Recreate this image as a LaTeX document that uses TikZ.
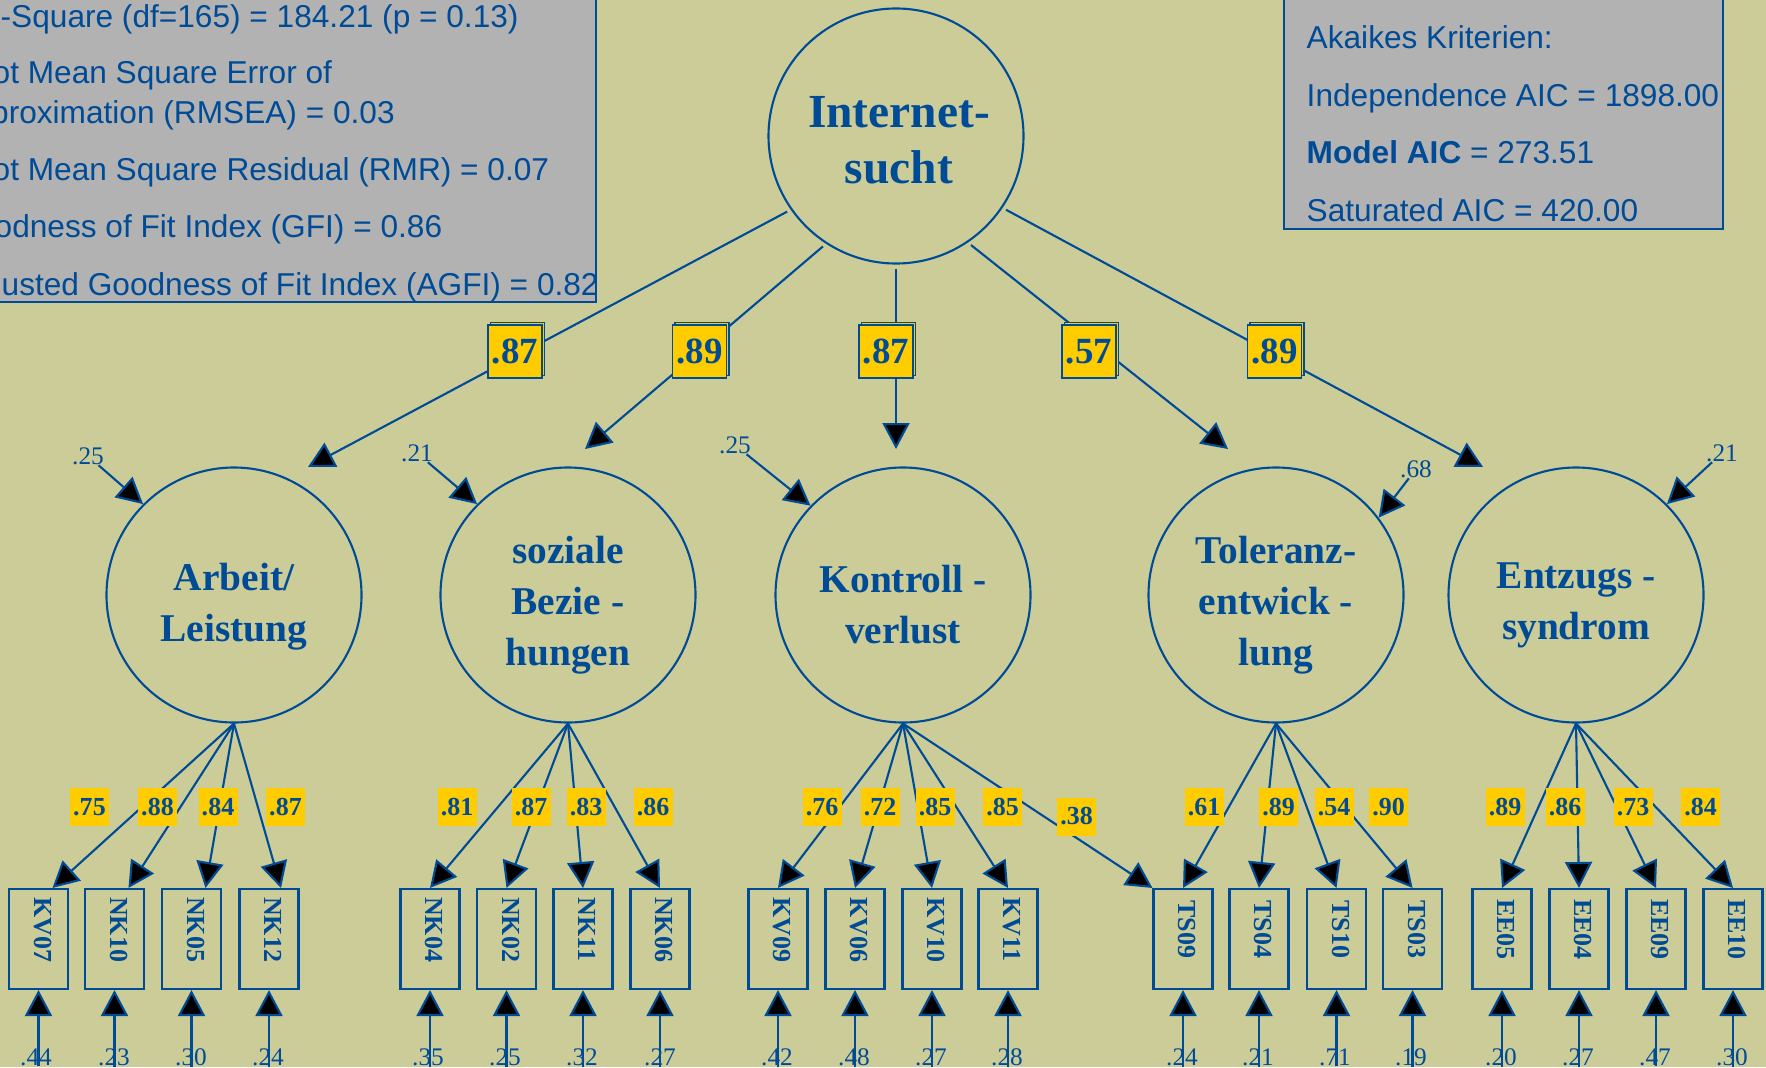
\documentclass[tikz,border=0pt]{standalone}
\usepackage{fontspec}
\setmainfont{Liberation Serif}
\newfontfamily\arialfont{Liberation Sans}
\usetikzlibrary{arrows.meta,shadows}

\definecolor{ink}{RGB}{0,75,150}
\definecolor{olive}{RGB}{204,204,153}
\definecolor{panel}{RGB}{178,178,178}
\definecolor{gold}{RGB}{255,204,0}

\begin{document}
\begin{tikzpicture}[
    x=0.1mm, y=-0.1mm,
    factor/.style={circle, draw=ink, line width=0.6pt, minimum size=25.5mm, inner sep=0pt},
    toptext/.style={text=ink, align=center, font=\bfseries\fontsize{13.5}{15.9}\selectfont, yshift=-0.45mm, xshift=0.3mm},
    ftext/.style={text=ink, align=center, font=\bfseries\fontsize{11.2}{14.5}\selectfont, yshift=-1mm},
    indicator/.style={rectangle, draw=ink, line width=0.6pt, rotate=-90, minimum width=10mm, minimum height=5.9mm, inner sep=0pt, text=ink, text depth=0.9mm, font=\bfseries\fontsize{7.4}{9}\selectfont, execute at end node={\hspace*{1.9mm}}},
    bigload/.style={rectangle, fill=gold, draw=ink, line width=0.5pt, text=ink, inner sep=0pt, minimum width=5.4mm, minimum height=5.3mm, font=\bfseries\fontsize{10.5}{12}\selectfont, copy shadow={shadow xshift=0.25mm, shadow yshift=0.25mm, fill=gold, draw=ink}},
    load/.style={rectangle, fill=gold, text=ink, inner sep=0pt, minimum width=3.9mm, minimum height=3.8mm, font=\bfseries\fontsize{7.4}{9}\selectfont},
    resid/.style={text=ink, inner sep=0pt, font=\fontsize{7.2}{9}\selectfont},
    fitline/.style={text=ink, anchor=base west, inner sep=0pt, font=\arialfont\fontsize{9}{11}\selectfont},
    regr/.style={draw=ink, line width=0.6pt, -{Triangle[length=2.6mm, width=2.7mm, fill=black]}}
]
    \fill[olive] (0,0) rectangle (1766,1067);
    \useasboundingbox (0,0) rectangle (1766,1067);

    % Fit panels
    \draw[ink, fill=panel, line width=0.6pt] (-20,-20) rectangle (596,302);
    \node[fitline] (chi) at (0,27) {-Square (df=165) = 184.21 (p = 0.13)};
    \node[fitline] (rmsea) at (-8,83) {ot Mean Square Error of};
    \node[fitline] (rmsea2) at (-9.5,123) {proximation (RMSEA) = 0.03};
    \node[fitline] (rmr) at (-8,180) {ot Mean Square Residual (RMR) = 0.07};
    \node[fitline] (gfi) at (-6,237) {odness of Fit Index (GFI) = 0.86};
    \node[fitline] (agfi) at (1,295) {usted Goodness of Fit Index (AGFI) = 0.82};

    \draw[ink, fill=panel, line width=0.6pt] (1284,-20) rectangle (1723,229);
    \node[fitline] (aic) at (1306,48) {Akaikes Kriterien:};
    \node[fitline] (aicind) at (1306,106) {Independence AIC = 1898.00};
    \node[fitline] (aicmod) at (1306,163) {\textbf{Model AIC} = 273.51};
    \node[fitline] (aicsat) at (1306,221) {Saturated AIC = 420.00};

    % Factors
    \node[factor, label={[toptext]center:Internet-\\sucht}] (sucht) at (896,136) {};
    \node[factor, label={[ftext, yshift=-0.2mm]center:Arbeit/\\Leistung}] (arb) at (234,595) {};
    \node[factor, label={[ftext]center:soziale\\Bezie -\\hungen}] (soz) at (568,595) {};
    \node[factor, label={[ftext]center:Kontroll -\\verlust}] (kon) at (903,595) {};
    \node[factor, label={[ftext]center:Toleranz-\\entwick -\\lung}] (tol) at (1276,595) {};
    \node[factor, label={[ftext]center:Entzugs -\\syndrom}] (ent) at (1576,595) {};

    % Indicators
    \node[indicator] (kv07) at (38.5,939) {KV07};
    \node[indicator] (nk10) at (114.5,939) {NK10};
    \node[indicator] (nk05) at (191.5,939) {NK05};
    \node[indicator] (nk12) at (269,939) {NK12};
    \node[indicator] (nk04) at (430,939) {NK04};
    \node[indicator] (nk02) at (506.5,939) {NK02};
    \node[indicator] (nk11) at (583,939) {NK11};
    \node[indicator] (nk06) at (660,939) {NK06};
    \node[indicator] (kv09) at (778,939) {KV09};
    \node[indicator] (kv06) at (855,939) {KV06};
    \node[indicator] (kv10) at (932,939) {KV10};
    \node[indicator] (kv11) at (1008,939) {KV11};
    \node[indicator] (ts09) at (1183,939) {TS09};
    \node[indicator] (ts04) at (1259,939) {TS04};
    \node[indicator] (ts10) at (1336.5,939) {TS10};
    \node[indicator] (ts03) at (1412.5,939) {TS03};
    \node[indicator] (ee05) at (1502,939) {EE05};
    \node[indicator] (ee04) at (1579,939) {EE04};
    \node[indicator] (ee09) at (1656,939) {EE09};
    \node[indicator] (ee10) at (1733,939) {EE10};

    % Second order paths
    \coordinate (arb-in) at (308,467);
    \coordinate (soz-in) at (585,449);
    \coordinate (kon-in) at (896,449);
    \coordinate (tol-in) at (1228,449);
    \coordinate (ent-in) at (1483,467);
    \draw[regr, shorten <=0.4mm] (sucht.215) -- (arb-in);
    \draw[regr, shorten <=0.4mm] (sucht.237) -- (soz-in);
    \draw[regr, shorten <=0.4mm] (sucht.270) -- (kon-in);
    \draw[regr, shorten <=0.4mm] (sucht.304) -- (tol-in);
    \draw[regr, shorten <=0.4mm] (sucht.326) -- (ent-in);

    % Residuals of the factors
    \node[resid] (r-arb) at (88,456) {.25};
    \node[resid] (r-soz) at (417,453) {.21};
    \node[resid] (r-kon) at (735,445) {.25};
    \node[resid] (r-tol) at (1416,469) {.68};
    \node[resid] (r-ent) at (1722,453) {.21};
    \draw[regr] (r-arb) -- (arb.135);
    \draw[regr] (r-soz) -- (soz.135);
    \draw[regr] (r-kon) -- (kon.136);
    \draw[regr] (r-tol) -- (tol.37);
    \draw[regr] (r-ent) -- (ent.45);

    % Loadings
    \draw[regr] (arb.south) -- ([xshift=1.4mm]kv07.west);
    \draw[regr] (arb.south) -- ([xshift=1.4mm]nk10.west);
    \draw[regr] (arb.south) -- ([xshift=1.4mm]nk05.west);
    \draw[regr] (arb.south) -- ([xshift=1.2mm]nk12.west);
    \draw[regr] (soz.south) -- (nk04.west);
    \draw[regr] (soz.south) -- (nk02.west);
    \draw[regr] (soz.south) -- (nk11.west);
    \draw[regr] (soz.south) -- (nk06.west);
    \draw[regr] (kon.south) -- (kv09.west);
    \draw[regr] (kon.south) -- (kv06.west);
    \draw[regr] (kon.south) -- (kv10.west);
    \draw[regr] (kon.south) -- (kv11.west);
    \draw[regr] (kon.south) -- (ts09.south west);
    \draw[regr] (tol.south) -- (ts09.west);
    \draw[regr] (tol.south) -- (ts04.west);
    \draw[regr] (tol.south) -- (ts10.west);
    \draw[regr] (tol.south) -- (ts03.west);
    \draw[regr] (ent.south) -- (ee05.west);
    \draw[regr] (ent.south) -- (ee04.west);
    \draw[regr] (ent.south) -- (ee09.west);
    \draw[regr] (ent.south) -- (ee10.west);

    % Error terms
    \node[resid, anchor=north] (e-kv07) at (36,1048) {.44};
    \node[resid, anchor=north] (e-nk10) at (114,1048) {.23};
    \node[resid, anchor=north] (e-nk05) at (191,1048) {.30};
    \node[resid, anchor=north] (e-nk12) at (268,1048) {.24};
    \node[resid, anchor=north] (e-nk04) at (428,1048) {.35};
    \node[resid, anchor=north] (e-nk02) at (505,1048) {.25};
    \node[resid, anchor=north] (e-nk11) at (582,1048) {.32};
    \node[resid, anchor=north] (e-nk06) at (660,1048) {.27};
    \node[resid, anchor=north] (e-kv09) at (777,1048) {.42};
    \node[resid, anchor=north] (e-kv06) at (854,1048) {.48};
    \node[resid, anchor=north] (e-kv10) at (931,1048) {.27};
    \node[resid, anchor=north] (e-kv11) at (1007,1048) {.28};
    \node[resid, anchor=north] (e-ts09) at (1182,1048) {.24};
    \node[resid, anchor=north] (e-ts04) at (1258,1048) {.21};
    \node[resid, anchor=north] (e-ts10) at (1335,1048) {.71};
    \node[resid, anchor=north] (e-ts03) at (1411,1048) {.19};
    \node[resid, anchor=north] (e-ee05) at (1501,1048) {.20};
    \node[resid, anchor=north] (e-ee04) at (1578,1048) {.27};
    \node[resid, anchor=north] (e-ee09) at (1655,1048) {.47};
    \node[resid, anchor=north] (e-ee10) at (1732,1048) {.30};
    \draw[regr] (e-kv07.south -| kv07.east) -- (kv07.east);
    \draw[regr] (e-nk10.south -| nk10.east) -- (nk10.east);
    \draw[regr] (e-nk05.south -| nk05.east) -- (nk05.east);
    \draw[regr] (e-nk12.south -| nk12.east) -- (nk12.east);
    \draw[regr] (e-nk04.south -| nk04.east) -- (nk04.east);
    \draw[regr] (e-nk02.south -| nk02.east) -- (nk02.east);
    \draw[regr] (e-nk11.south -| nk11.east) -- (nk11.east);
    \draw[regr] (e-nk06.south -| nk06.east) -- (nk06.east);
    \draw[regr] (e-kv09.south -| kv09.east) -- (kv09.east);
    \draw[regr] (e-kv06.south -| kv06.east) -- (kv06.east);
    \draw[regr] (e-kv10.south -| kv10.east) -- (kv10.east);
    \draw[regr] (e-kv11.south -| kv11.east) -- (kv11.east);
    \draw[regr] (e-ts09.south -| ts09.east) -- (ts09.east);
    \draw[regr] (e-ts04.south -| ts04.east) -- (ts04.east);
    \draw[regr] (e-ts10.south -| ts10.east) -- (ts10.east);
    \draw[regr] (e-ts03.south -| ts03.east) -- (ts03.east);
    \draw[regr] (e-ee05.south -| ee05.east) -- (ee05.east);
    \draw[regr] (e-ee04.south -| ee04.east) -- (ee04.east);
    \draw[regr] (e-ee09.south -| ee09.east) -- (ee09.east);
    \draw[regr] (e-ee10.south -| ee10.east) -- (ee10.east);

    % Path coefficients
    \node[bigload] (g-arb) at (515,351.5) {.87};
    \node[bigload] (g-soz) at (699.5,351.5) {.89};
    \node[bigload] (g-kon) at (886,351.5) {.87};
    \node[bigload] (g-tol) at (1089,351.5) {.57};
    \node[bigload] (g-ent) at (1274.5,351.5) {.89};

    \node[load] (l-kv07) at (89.5,807) {.75};
    \node[load] (l-nk10) at (157.5,807) {.88};
    \node[load] (l-nk05) at (218,807) {.84};
    \node[load] (l-nk12) at (285.5,807) {.87};
    \node[load] (l-nk04) at (457,807) {.81};
    \node[load] (l-nk02) at (531,807) {.87};
    \node[load] (l-nk11) at (586,807) {.83};
    \node[load] (l-nk06) at (653,807) {.86};
    \node[load] (l-kv09) at (822,807) {.76};
    \node[load] (l-kv06) at (880,807) {.72};
    \node[load] (l-kv10) at (935,807) {.85};
    \node[load] (l-kv11) at (1002.5,807) {.85};
    \node[load] (l-ts09k) at (1076.5,816.5) {.38};
    \node[load] (l-ts09) at (1204,807) {.61};
    \node[load] (l-ts04) at (1278.5,807) {.89};
    \node[load] (l-ts10) at (1334,807) {.54};
    \node[load] (l-ts03) at (1388.5,807) {.90};
    \node[load] (l-ee05) at (1505,807) {.89};
    \node[load] (l-ee04) at (1565,807) {.86};
    \node[load] (l-ee09) at (1633,807) {.73};
    \node[load] (l-ee10) at (1700.5,807) {.84};

\end{tikzpicture}
\end{document}
